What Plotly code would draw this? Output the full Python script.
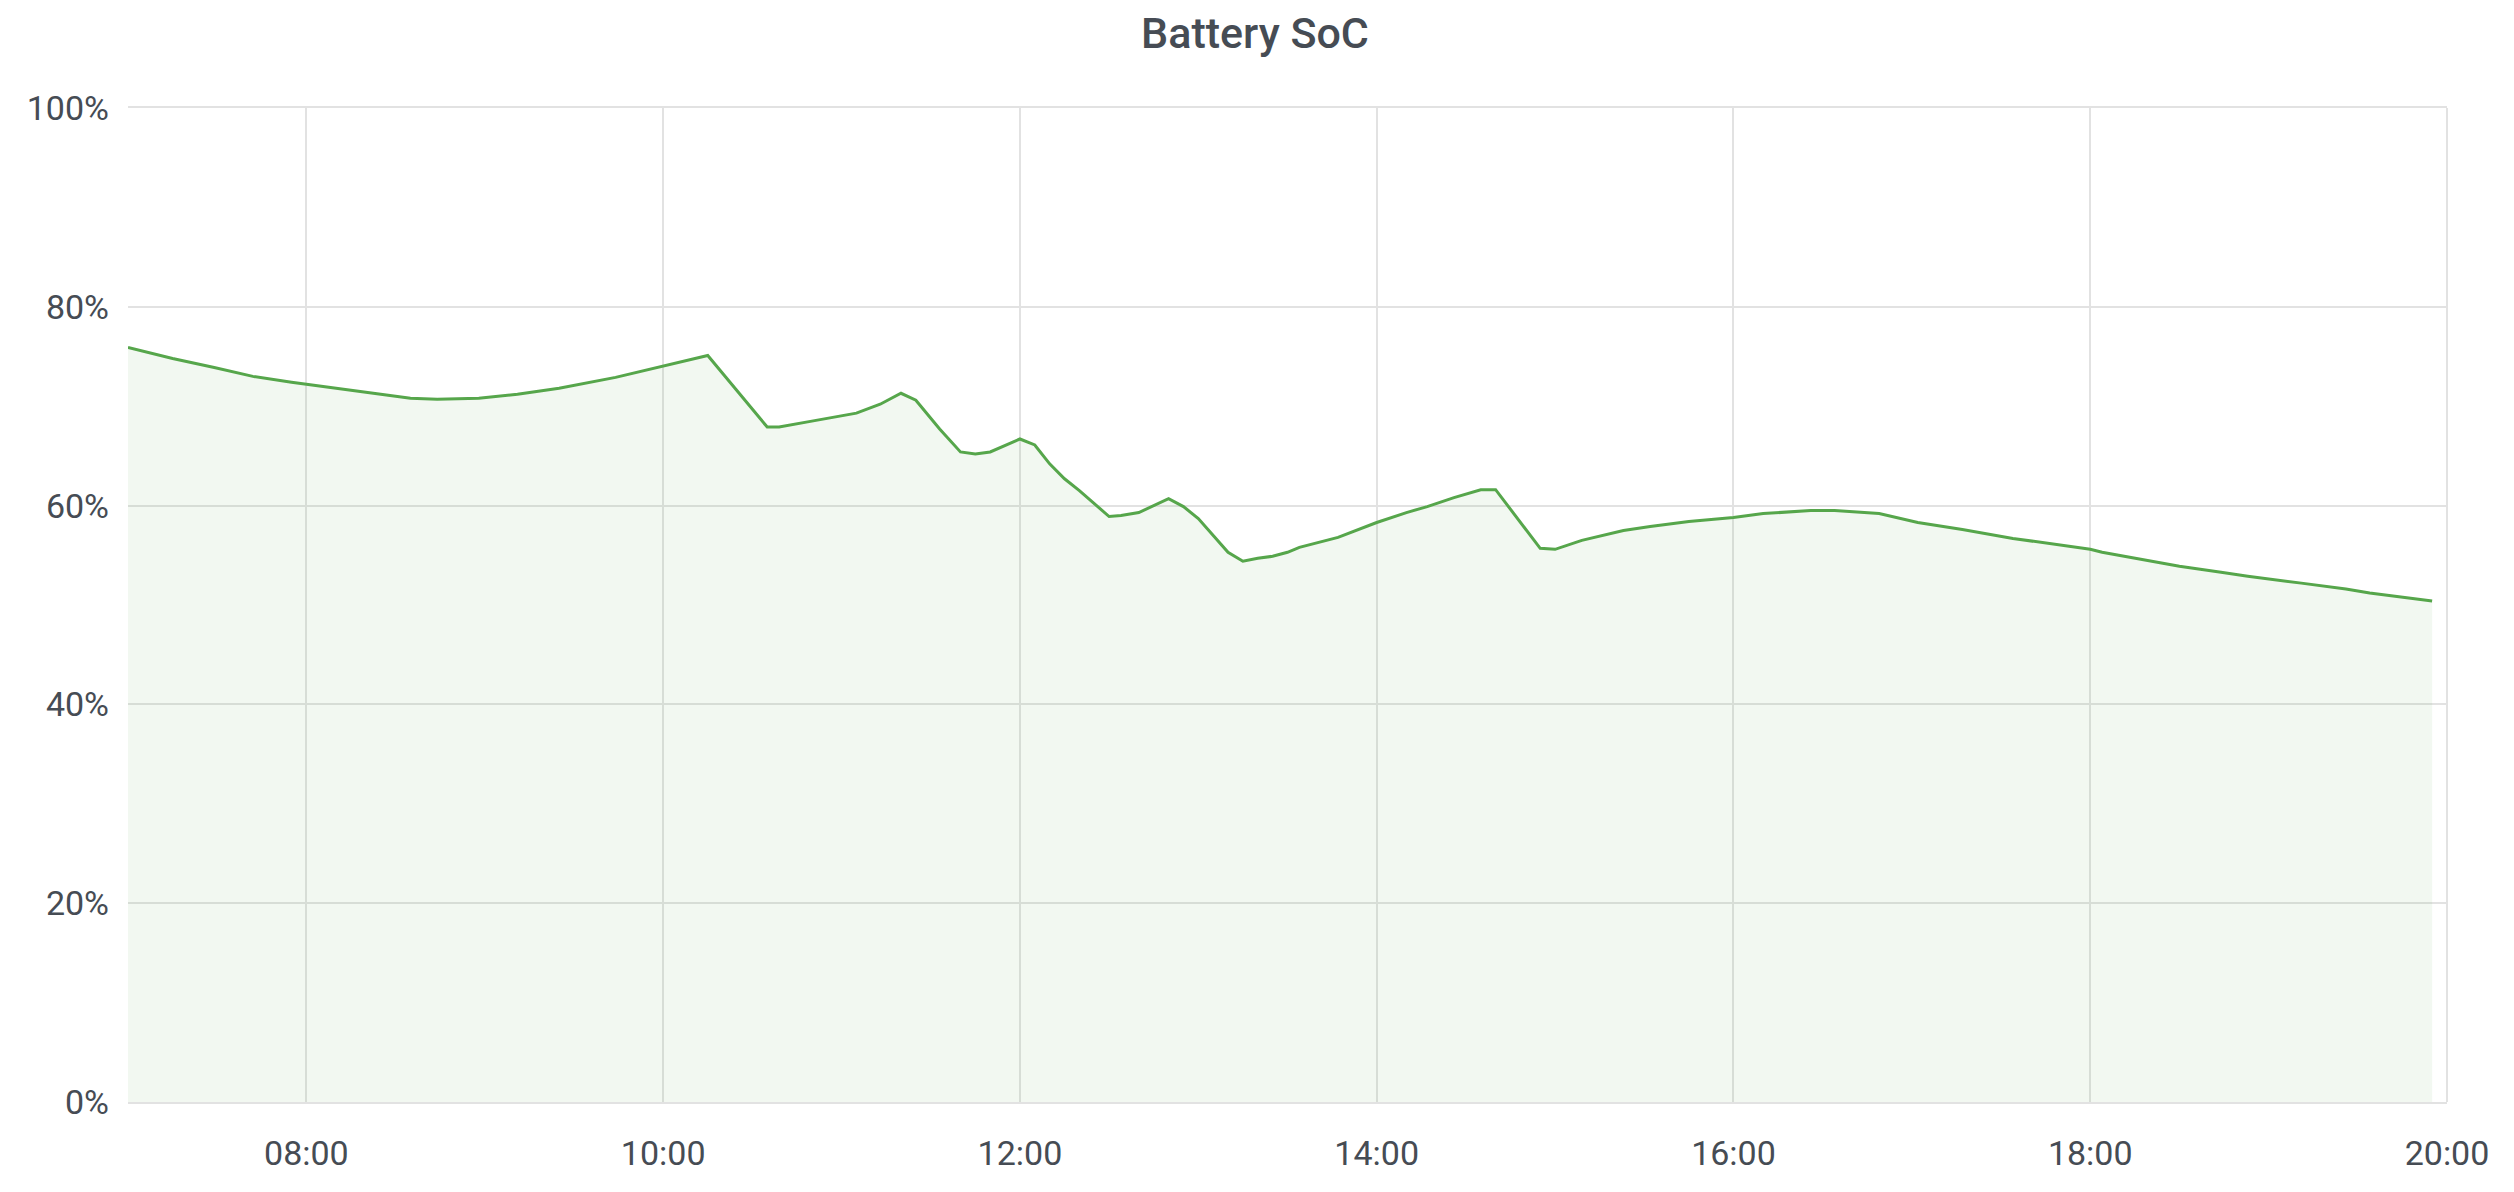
import plotly.graph_objects as go

# ---- data ----
times = [
    "07:00", "07:08", "07:15", "07:29", "07:42", "07:55", "08:00", "08:15", "08:35", "08:44",
    "08:58", "09:11", "09:25", "09:44", "09:51", "10:00", "10:08", "10:15", "10:35", "10:39",
    "10:50", "11:05", "11:13", "11:20", "11:25", "11:33", "11:40", "11:45", "11:50", "12:00",
    "12:05", "12:10", "12:15", "12:20", "12:30", "12:34", "12:40", "12:50", "12:55", "13:00",
    "13:10", "13:15", "13:20", "13:25", "13:30", "13:34", "13:47", "13:53", "14:00", "14:10",
    "14:17", "14:26", "14:35", "14:40", "14:55", "15:00", "15:09", "15:23", "15:32", "15:45",
    "15:53", "16:00", "16:10", "16:26", "16:34", "16:49", "17:02", "17:17", "17:34", "17:53",
    "18:00", "18:04", "18:19", "18:30", "18:44", "18:53", "19:11", "19:26", "19:34", "19:55",
]
soc = [
    75.9, 75.3, 74.8, 73.9, 73.0, 72.4, 72.2, 71.6, 70.8, 70.7,
    70.8, 71.2, 71.8, 72.9, 73.4, 74.0, 74.6, 75.1, 67.9, 67.9,
    68.5, 69.3, 70.2, 71.3, 70.6, 67.7, 65.4, 65.2, 65.4, 66.7,
    66.1, 64.2, 62.7, 61.5, 58.9, 59.0, 59.3, 60.7, 59.9, 58.7,
    55.3, 54.4, 54.7, 54.9, 55.3, 55.8, 56.8, 57.5, 58.3, 59.3,
    59.9, 60.8, 61.6, 61.6, 55.7, 55.6, 56.5, 57.5, 57.9, 58.4,
    58.6, 58.8, 59.2, 59.5, 59.5, 59.2, 58.3, 57.6, 56.7, 55.9,
    55.6, 55.3, 54.5, 53.9, 53.3, 52.9, 52.2, 51.6, 51.2, 50.4,
]
day = "2024-01-01"
x_start, x_end = "07:00", "20:00"
y_ticks = [0, 20, 40, 60, 80, 100]
y_tick_labels = ["0%", "20%", "40%", "60%", "80%", "100%"]
title_text = "Battery SoC"

x_vals = [f"{day} {t}" for t in times]

TEXT = "#464c54"
GREEN = "#56a64b"
GRID = "#e2e2e2"

W, H = 2506, 1184  # page body adds an 8px margin

fig = go.Figure()
fig.add_trace(go.Scatter(
    x=x_vals, y=soc, mode="lines",
    line=dict(color=GREEN, width=3),
    fill="tozeroy", fillcolor="rgba(86,166,75,0.08)",
    hoverinfo="skip", showlegend=False,
))

# right-hand frame line (grid line at 20:00 on the plot edge)
fig.add_shape(type="line", xref="x domain", yref="y domain",
              x0=1, x1=1, y0=0, y1=1, layer="below",
              line=dict(color=GRID, width=2))

fig.update_layout(
    width=W, height=H,
    margin=dict(l=120, r=67, t=100, b=90),
    paper_bgcolor="white", plot_bgcolor="white",
    font=dict(family="Roboto", size=34, color=TEXT),
    title=dict(text=title_text, x=(1255 - 8) / W, xref="container", xanchor="center",
               y=1 - 25 / H, yref="container", yanchor="middle",
               font=dict(family="Roboto", size=43, color=TEXT, weight=500)),
    showlegend=False,
)
fig.update_xaxes(
    type="date", range=[f"{day} {x_start}", f"{day} {x_end}"],
    dtick=2 * 3600 * 1000, tickformat="%H:%M",
    showgrid=True, gridcolor=GRID, gridwidth=2,
    showline=True, mirror=True, linecolor=GRID, linewidth=2,
    zeroline=False, ticks="",
    ticklabelstandoff=20,
    tickfont=dict(family="Roboto", size=34, color=TEXT),
)
fig.update_yaxes(
    range=[0, 100], tickvals=y_ticks, ticktext=y_tick_labels,
    showgrid=True, gridcolor=GRID, gridwidth=2,
    showline=False, zeroline=False, ticks="",
    ticklabelstandoff=18,
    tickfont=dict(family="Roboto", size=34, color=TEXT),
)

fig.write_html("out.html", config={"displayModeBar": False})
